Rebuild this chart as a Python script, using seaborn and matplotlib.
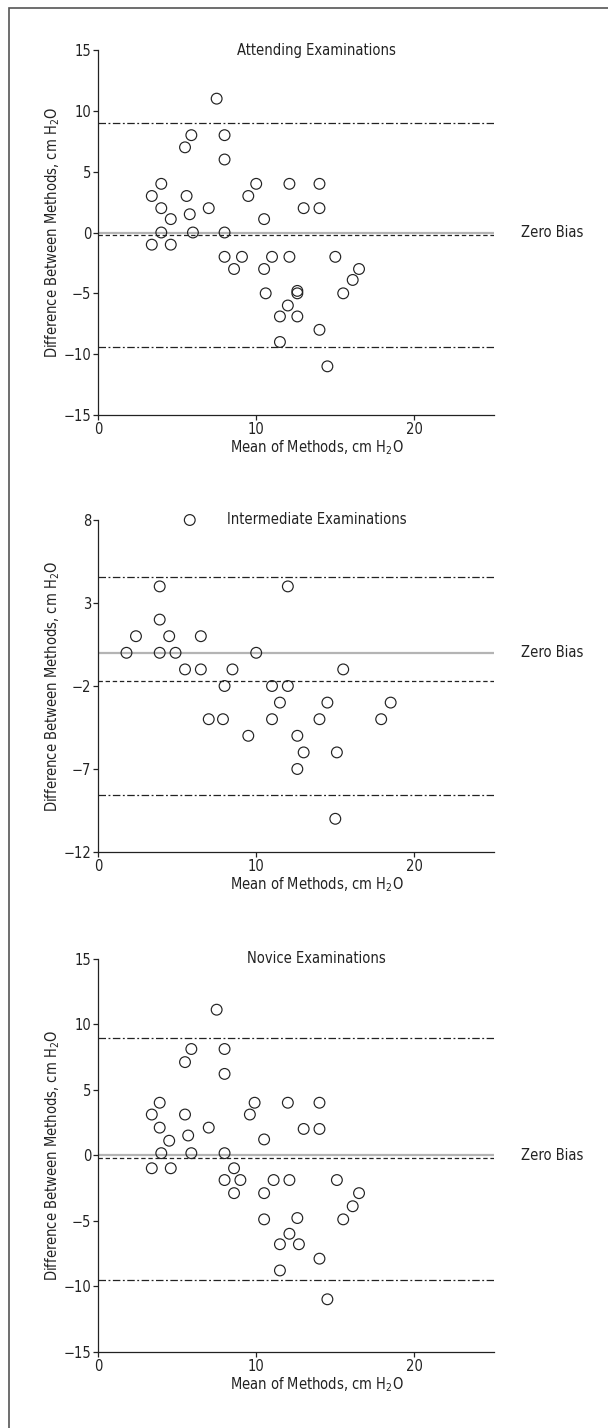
import numpy as np
import pandas as pd
import matplotlib
matplotlib.use("Agg")
import matplotlib.pyplot as plt
from matplotlib import font_manager
from matplotlib.patches import Rectangle
import seaborn as sns

# ---- data ----
att_mean = [7.5, 5.9, 8, 5.5, 8, 4, 3.4, 5.6, 10, 12.1, 14, 9.5, 4, 5.8, 4.6, 7, 10.5, 13, 14,
            4, 6, 8, 3.4, 4.6, 8, 9.1, 11, 12.1, 15, 8.6, 10.5, 16.5, 16.1, 10.6, 12.6, 12.6,
            15.5, 12, 11.5, 12.6, 14, 11.5, 14.5]
att_diff = [11, 8, 8, 7, 6, 4, 3, 3, 4, 4, 4, 3, 2, 1.5, 1.1, 2, 1.1, 2, 2,
            0, 0, 0, -1, -1, -2, -2, -2, -2, -2, -3, -3, -3, -3.9, -5, -4.8, -5,
            -5, -6, -6.9, -6.9, -8, -9, -11]

int_mean = [5.8, 3.9, 12, 3.9, 2.4, 4.5, 6.5, 1.8, 3.9, 4.9, 10, 5.5, 6.5, 8.5, 15.5,
            8, 11, 12, 11.5, 14.5, 18.5, 7, 7.9, 11, 14, 17.9, 9.5, 12.6, 13, 15.1, 12.6, 15]
int_diff = [8, 4, 4, 2, 1, 1, 1, 0, 0, 0, 0, -1, -1, -1, -1,
            -2, -2, -2, -3, -3, -3, -4, -4, -4, -4, -4, -5, -5, -6, -6, -7, -10]

nov_mean = [7.5, 5.9, 8, 5.5, 8, 3.9, 3.4, 5.5, 9.9, 12, 14, 9.6, 3.9, 7, 5.7, 4.5, 10.5, 13, 14,
            4, 5.9, 8, 3.4, 4.6, 8.6, 8, 9, 11.1, 12.1, 15.1, 8.6, 10.5, 16.5, 16.1, 10.5, 12.6,
            15.5, 12.1, 11.5, 12.7, 14, 11.5, 14.5]
nov_diff = [11.1, 8.1, 8.1, 7.1, 6.2, 4, 3.1, 3.1, 4, 4, 4, 3.1, 2.1, 2.1, 1.5, 1.1, 1.2, 2, 2,
            0.15, 0.15, 0.15, -1, -1, -1, -1.9, -1.9, -1.9, -1.9, -1.9, -2.9, -2.9, -2.9, -3.9, -4.9, -4.8,
            -4.9, -6, -6.8, -6.8, -7.9, -8.8, -11]

titles = ["Attending Examinations", "Intermediate Examinations", "Novice Examinations"]
bias = [-0.2, -1.7, -0.2]
upper_loa = [9.0, 4.55, 8.95]
lower_loa = [-9.45, -8.57, -9.5]
y_limits = [(-15, 15), (-12, 8), (-15, 15)]
y_ticks = [[-15, -10, -5, 0, 5, 10, 15], [-12, -7, -2, 3, 8], [-15, -10, -5, 0, 5, 10, 15]]
x_ticks = [0, 10, 20]

frames = [
    pd.DataFrame({"mean": att_mean, "diff": att_diff}),
    pd.DataFrame({"mean": int_mean, "diff": int_diff}),
    pd.DataFrame({"mean": nov_mean, "diff": nov_diff}),
]

# ---- style ----
sns.set_style("ticks")
names = {f.name for f in font_manager.fontManager.ttflist}
fam = "Liberation Sans Narrow" if "Liberation Sans Narrow" in names else "DejaVu Sans"
plt.rcParams["font.family"] = [fam, "DejaVu Sans"]
plt.rcParams["mathtext.fontset"] = "custom"
plt.rcParams["mathtext.rm"] = fam
if fam == "DejaVu Sans":
    plt.rcParams["font.stretch"] = "condensed"

ink = "#222222"
W, H = 608, 1428
fig = plt.figure(figsize=(W / 100, H / 100), dpi=100)

# axes boxes in pixels: (left, top, right, bottom)
boxes = [(98, 50, 493.5, 415), (98, 520, 493.5, 852), (98, 958.6, 493.5, 1351.7)]

for i, (l, t, r, b) in enumerate(boxes):
    ax = fig.add_axes([l / W, 1 - b / H, (r - l) / W, (b - t) / H])
    ax.axhline(0, color="#b4b4b4", lw=1.6, zorder=1)
    ax.axhline(bias[i], color=ink, lw=0.9, dashes=(3.5, 2.2), zorder=1)
    ax.axhline(upper_loa[i], color=ink, lw=0.9, dashes=(6, 2, 1.5, 2), zorder=1)
    ax.axhline(lower_loa[i], color=ink, lw=0.9, dashes=(6, 2, 1.5, 2), zorder=1)
    sns.scatterplot(data=frames[i], x="mean", y="diff", ax=ax, marker="o", s=60,
                    facecolor="none", edgecolor=ink, linewidth=0.85, zorder=3, clip_on=False)
    ax.set_xlim(0, 25)
    ax.set_ylim(*y_limits[i])
    ax.set_xticks(x_ticks)
    ax.set_yticks(y_ticks[i])
    sns.despine(ax=ax)
    for s in ["left", "bottom"]:
        ax.spines[s].set_linewidth(0.9)
        ax.spines[s].set_color(ink)
    ax.tick_params(length=3.5, width=0.9, colors=ink, labelsize=10.5, pad=1.5)
    ax.set_xlabel(r"Mean of Methods, cm H$_\mathregular{2}$O", fontsize=10.5, color=ink, labelpad=1)
    ax.xaxis.set_label_coords(0.553, -0.065 * 365 / (b - t))
    ax.set_ylabel(r"Difference Between Methods, cm H$_\mathregular{2}$O", fontsize=10.5, color=ink)
    ax.yaxis.set_label_coords(-36 / 395.5, 0.5)
    ax.text(0.553, 1.0, titles[i], transform=ax.transAxes, ha="center", va="center",
            fontsize=10.5, color=ink)
    ax.text(1.07, 0, "Zero Bias", transform=ax.get_yaxis_transform(), ha="left", va="center",
            fontsize=10.5, color=ink, clip_on=False)

# figure border (cut off at right and bottom in the reference)
fig.patches.append(Rectangle((9 / W, -0.05), 1.1, 1 - 8 / H + 0.05, transform=fig.transFigure,
                             fill=False, edgecolor="#555555", lw=1.2))

fig.savefig("out.png", dpi=100)
